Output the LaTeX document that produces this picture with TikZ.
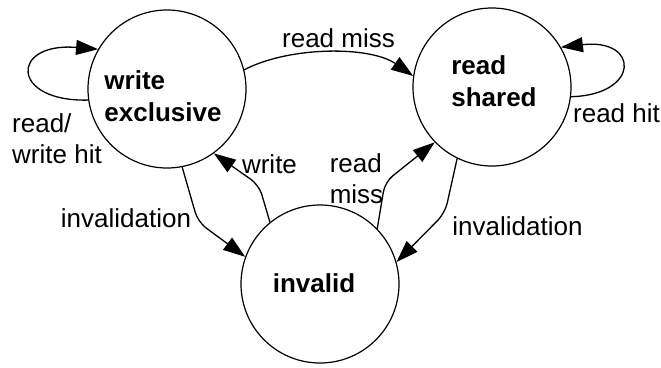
\documentclass[tikz,border=0pt]{standalone}
\usepackage{fontspec}
\setmainfont{Liberation Sans}
\usetikzlibrary{arrows.meta}
\begin{document}
\begin{tikzpicture}[x=1pt,y=-1pt,
  state/.style={circle,draw,line width=1.2pt,minimum size=158pt,inner sep=0pt},
  statename/.style={font=\fontsize{26}{32}\selectfont\bfseries,align=left,inner sep=0pt},
  edgelabel/.style={font=\fontsize{26}{31}\selectfont,align=left,inner sep=0pt},
  trans/.style={line width=1.3pt,-{Triangle[length=22pt,width=15pt]},rounded corners=10pt},
]
\useasboundingbox[fill=white] (0,0) rectangle (661,367);

% the three cache-line states
\node[state] (we) at (167,89) {};
\node[state] (rs) at (492,87) {};
\node[state] (inv) at (320,284) {};

\node[statename] (we-name) at (163,96) {write\\exclusive};
\node[statename] (rs-name) at (494,81) {read\\shared};
\node[statename] (inv-name) at (314,283) {invalid};

% self loops
\draw[trans] (we.188) .. controls (10,102) and (10,42) .. (we.150);
\draw[trans] (rs.353) .. controls (640,95) and (640,38) .. (rs.30);

% transitions between states
\draw[trans] (we.14) .. controls (290,46) and (370,46) .. (rs.172);
\draw[trans] (we.281) -- (198,222) -- (inv.160);
\draw[trans] (inv.129) -- (259,185) -- (we.306);
\draw[trans] (inv.44.5) -- (385,182) -- (rs.224);
\draw[trans] (rs.244) -- (445,213) -- (inv.16);

% transition labels
\node[edgelabel] (l-readmiss-top) at (338.5,38.5) {read miss};
\node[edgelabel] (l-rwhit) at (57,139) {read/\\write hit};
\node[edgelabel] (l-readhit) at (616.5,113) {read hit};
\node[edgelabel] (l-write) at (269.5,164) {write};
\node[edgelabel] (l-readmiss-mid) at (356.5,178.5) {read\\miss};
\node[edgelabel] (l-inval-left) at (126,218) {invalidation};
\node[edgelabel] (l-inval-right) at (517.5,226) {invalidation};
\end{tikzpicture}
\end{document}
